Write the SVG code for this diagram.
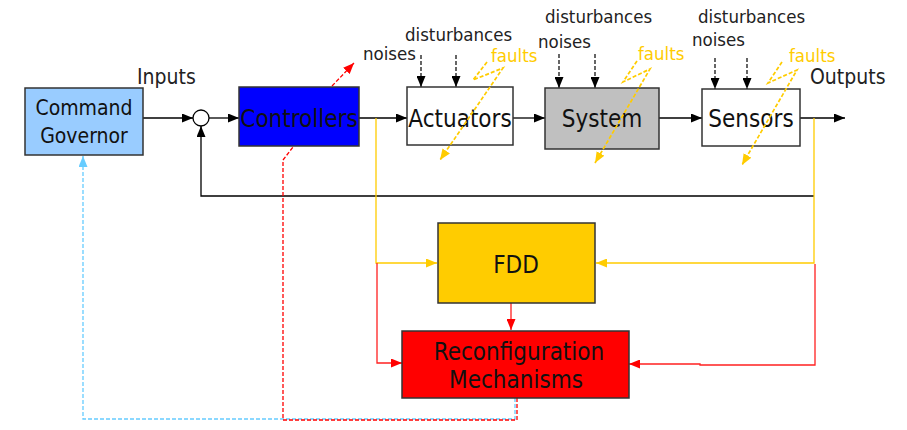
<svg xmlns="http://www.w3.org/2000/svg" width="907" height="430" viewBox="0 0 907 430">
  <defs>
    <marker id="arrBlack" viewBox="0 0 11 9" refX="11" refY="4.5" markerWidth="11" markerHeight="9" markerUnits="userSpaceOnUse" orient="auto">
      <path d="M0,0 L11,4.5 L0,9 z" fill="#000"/>
    </marker>
    <marker id="arrYellow" viewBox="0 0 11 9" refX="11" refY="4.5" markerWidth="11" markerHeight="9" markerUnits="userSpaceOnUse" orient="auto">
      <path d="M0,0 L11,4.5 L0,9 z" fill="#FFCC00"/>
    </marker>
    <marker id="arrRed" viewBox="0 0 11 9" refX="11" refY="4.5" markerWidth="11" markerHeight="9" markerUnits="userSpaceOnUse" orient="auto">
      <path d="M0,0 L11,4.5 L0,9 z" fill="#FF0000"/>
    </marker>
    <marker id="arrBlue" viewBox="0 0 11 9" refX="11" refY="4.5" markerWidth="11" markerHeight="9" markerUnits="userSpaceOnUse" orient="auto">
      <path d="M0,0 L11,4.5 L0,9 z" fill="#66CCFF"/>
    </marker>
  </defs>
  <style>
    text { font-family: "DejaVu Sans Condensed", "DejaVu Sans", sans-serif; font-stretch: condensed; fill: #111; }
    .box { stroke: #333; stroke-width: 1.5; }
    .big { font-size: 24px; text-anchor: middle; }
    .mid { font-size: 21px; text-anchor: middle; }
    .lbl { font-size: 18.5px; fill: #222; }
    .io { font-size: 21px; fill: #222; }
    .fault { font-size: 18.5px; fill: #FFCC00; }
    .sig { fill: none; stroke: #000; stroke-width: 1.3; }
    .dist { fill: none; stroke: #000; stroke-width: 1.2; stroke-dasharray: 4 2; }
    .yel { fill: none; stroke: #FFCC00; stroke-width: 1.3; }
    .yeld { fill: none; stroke: #FFCC00; stroke-width: 1.7; stroke-dasharray: 4 2; }
    .red { fill: none; stroke: #FF2020; stroke-width: 1.3; }
    .redd { fill: none; stroke: #FF0000; stroke-width: 1.3; stroke-dasharray: 4 2; }
    .blud { fill: none; stroke: #66CCFF; stroke-width: 1.3; stroke-dasharray: 4 2; }
  </style>

  <rect width="907" height="430" fill="#fff"/>

  <!-- connectors -->
  <g id="connectors">
    <!-- main signal path -->
    <line class="sig" x1="143" y1="118" x2="193" y2="118" marker-end="url(#arrBlack)"/>
    <line class="sig" x1="209" y1="118" x2="239" y2="118" marker-end="url(#arrBlack)"/>
    <line class="sig" x1="359" y1="118" x2="407" y2="118" marker-end="url(#arrBlack)"/>
    <line class="sig" x1="513" y1="118" x2="545" y2="118" marker-end="url(#arrBlack)"/>
    <line class="sig" x1="659" y1="118" x2="702" y2="118" marker-end="url(#arrBlack)"/>
    <line class="sig" x1="800" y1="118" x2="845" y2="118" marker-end="url(#arrBlack)"/>
    <!-- feedback -->
    <polyline class="sig" points="814,196 201,196 201,126" marker-end="url(#arrBlack)"/>

    <!-- disturbances / noises -->
    <line class="dist" x1="421" y1="55" x2="421" y2="87" marker-end="url(#arrBlack)"/>
    <line class="dist" x1="456" y1="55" x2="456" y2="87" marker-end="url(#arrBlack)"/>
    <line class="dist" x1="559" y1="54" x2="559" y2="88" marker-end="url(#arrBlack)"/>
    <line class="dist" x1="595" y1="54" x2="595" y2="88" marker-end="url(#arrBlack)"/>
    <line class="dist" x1="715" y1="58" x2="715" y2="89" marker-end="url(#arrBlack)"/>
    <line class="dist" x1="747" y1="58" x2="747" y2="89" marker-end="url(#arrBlack)"/>

    <!-- measurements to FDD -->
    <polyline class="yel" points="376,118 376,263 437,263" marker-end="url(#arrYellow)"/>
    <polyline class="yel" points="814,118 814,263 596,263" marker-end="url(#arrYellow)"/>

    <!-- measurements to reconfiguration -->
    <polyline class="red" points="377,263 377,363 402,363" marker-end="url(#arrRed)"/>
    <polyline class="red" points="815,264 815,365 700,365 700,364 629,364" marker-end="url(#arrRed)"/>
    <line class="red" x1="511" y1="303" x2="511" y2="330" marker-end="url(#arrRed)"/>

    <!-- reconfiguration actions -->
    <polyline class="blud" points="515,398 515,419 83,419 83,156" marker-end="url(#arrBlue)"/>
    <polyline class="redd" points="517,398 517,420 283,420 283,160 293,147"/>
    <line class="redd" x1="332" y1="86" x2="354" y2="63" marker-end="url(#arrRed)"/>
  </g>

  <!-- summing junction -->
  <g id="sum">
    <circle cx="201" cy="118" r="8" fill="#fff" stroke="#000" stroke-width="1.3"/>
  </g>

  <g id="command-governor">
    <rect class="box" x="25" y="88" width="118" height="67" fill="#99CCFF"/>
    <text class="mid" x="84" y="115">Command</text>
    <text class="mid" x="84" y="143">Governor</text>
  </g>

  <g id="controllers">
    <rect class="box" x="239" y="87" width="120" height="59" fill="#0000FF"/>
    <text class="big" x="299" y="127">Controllers</text>
  </g>

  <g id="actuators">
    <rect class="box" x="407" y="87" width="106" height="58" fill="#fff"/>
    <text class="big" x="460" y="127">Actuators</text>
  </g>

  <g id="system">
    <rect class="box" x="545" y="88" width="114" height="61" fill="#C0C0C0"/>
    <text class="big" x="602" y="127">System</text>
  </g>

  <g id="sensors">
    <rect class="box" x="702" y="89" width="98" height="57" fill="#fff"/>
    <text class="big" x="751" y="127">Sensors</text>
  </g>

  <g id="fdd">
    <rect class="box" x="438" y="223" width="157" height="80" fill="#FFCC00"/>
    <text class="big" x="516" y="273">FDD</text>
  </g>

  <g id="reconfiguration">
    <rect class="box" x="402" y="331" width="227" height="67" fill="#FF0000"/>
    <text class="big" x="519" y="360">Reconfiguration</text>
    <text class="big" x="516" y="388">Mechanisms</text>
  </g>

  <!-- fault injections, drawn across the blocks they hit -->
  <g id="fault-connectors">
    <polyline class="yeld" points="487,62 473,80 503,68 440,160" marker-end="url(#arrYellow)"/>
    <polyline class="yeld" points="637,61 623,82 650,69 595,163" marker-end="url(#arrYellow)"/>
    <polyline class="yeld" points="782,62 768,83 797,70 742,165" marker-end="url(#arrYellow)"/>
  </g>

  <!-- signal labels -->
  <g id="labels">
    <text class="io" x="137" y="84">Inputs</text>
    <text class="io" x="810" y="84">Outputs</text>

    <text class="lbl" x="363" y="60">noises</text>
    <text class="lbl" x="405" y="41">disturbances</text>
    <text class="fault" x="491" y="62">faults</text>

    <text class="lbl" x="545" y="23">disturbances</text>
    <text class="lbl" x="538" y="48">noises</text>
    <text class="fault" x="638" y="60">faults</text>

    <text class="lbl" x="698" y="23">disturbances</text>
    <text class="lbl" x="692" y="46">noises</text>
    <text class="fault" x="789" y="62">faults</text>
  </g>
</svg>
